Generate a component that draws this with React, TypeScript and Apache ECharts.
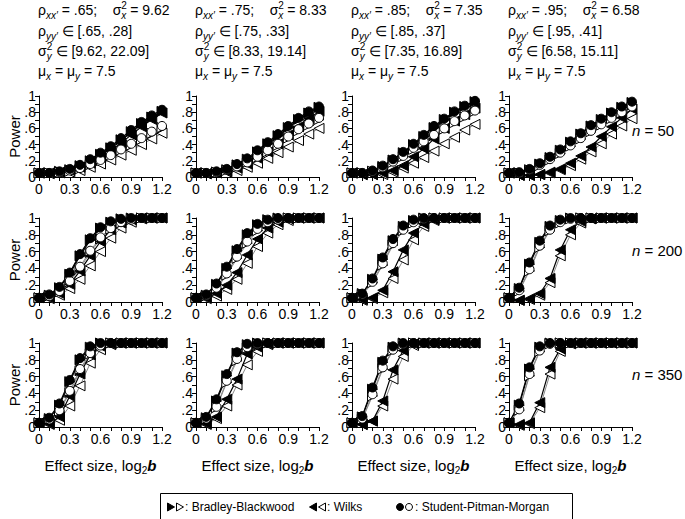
import React, { useEffect, useRef } from "react";
import * as echarts from "echarts";

const X_VALUES = [0, 0.1, 0.2, 0.3, 0.4, 0.5, 0.6, 0.7, 0.8, 0.9, 1.0, 1.1, 1.2];
const N_LABELS = ["50", "200", "350"];
const RHO_XX = [".65", ".75", ".85", ".95"];
const SIGMA_X = ["9.62", "8.33", "7.35", "6.58"];
const RHO_YY = ["[.65, .28]", "[.75, .33]", "[.85, .37]", "[.95, .41]"];
const SIGMA_Y = ["[9.62, 22.09]", "[8.33, 19.14]", "[7.35, 16.89]", "[6.58, 15.11]"];
const MU = "7.5";

// n = 50
const spmFilled50 = [
  [0.05, 0.05, 0.07, 0.10, 0.15, 0.22, 0.30, 0.38, 0.48, 0.58, 0.68, 0.76, 0.83],
  [0.05, 0.05, 0.07, 0.10, 0.16, 0.23, 0.33, 0.43, 0.53, 0.63, 0.73, 0.81, 0.87],
  [0.05, 0.05, 0.08, 0.14, 0.22, 0.31, 0.41, 0.52, 0.63, 0.72, 0.81, 0.88, 0.94],
  [0.05, 0.06, 0.10, 0.17, 0.25, 0.34, 0.44, 0.54, 0.64, 0.72, 0.80, 0.87, 0.93],
];
const spmOpen50 = [
  [0.05, 0.05, 0.06, 0.08, 0.11, 0.16, 0.21, 0.27, 0.34, 0.41, 0.48, 0.56, 0.63],
  [0.05, 0.05, 0.06, 0.09, 0.13, 0.18, 0.25, 0.33, 0.41, 0.50, 0.59, 0.66, 0.73],
  [0.05, 0.05, 0.07, 0.12, 0.19, 0.26, 0.36, 0.44, 0.52, 0.60, 0.69, 0.76, 0.82],
  [0.05, 0.05, 0.09, 0.15, 0.22, 0.30, 0.39, 0.48, 0.57, 0.65, 0.73, 0.80, 0.87],
];
const bbFilled50 = [
  [0.05, 0.05, 0.07, 0.09, 0.14, 0.20, 0.28, 0.36, 0.46, 0.56, 0.66, 0.74, 0.81],
  [0.05, 0.05, 0.06, 0.09, 0.15, 0.22, 0.31, 0.41, 0.51, 0.61, 0.71, 0.79, 0.86],
  [0.05, 0.05, 0.07, 0.13, 0.21, 0.30, 0.40, 0.50, 0.61, 0.71, 0.80, 0.87, 0.93],
  [0.05, 0.05, 0.09, 0.16, 0.24, 0.33, 0.43, 0.53, 0.63, 0.71, 0.79, 0.86, 0.92],
];
const bbOpen50 = [
  [0.05, 0.05, 0.06, 0.07, 0.10, 0.15, 0.20, 0.26, 0.32, 0.39, 0.46, 0.54, 0.61],
  [0.05, 0.05, 0.06, 0.08, 0.12, 0.17, 0.24, 0.31, 0.39, 0.48, 0.57, 0.64, 0.71],
  [0.05, 0.05, 0.07, 0.11, 0.18, 0.25, 0.34, 0.42, 0.51, 0.59, 0.67, 0.74, 0.81],
  [0.05, 0.05, 0.08, 0.14, 0.21, 0.29, 0.38, 0.47, 0.56, 0.64, 0.72, 0.79, 0.86],
];
const wilksFilled50 = [
  [0.05, 0.05, 0.06, 0.08, 0.12, 0.17, 0.24, 0.32, 0.42, 0.52, 0.62, 0.71, 0.79],
  [0.05, 0.04, 0.05, 0.07, 0.11, 0.16, 0.23, 0.31, 0.41, 0.52, 0.62, 0.72, 0.81],
  [0.05, 0.03, 0.03, 0.05, 0.08, 0.14, 0.25, 0.35, 0.47, 0.60, 0.69, 0.77, 0.85],
  [0.05, 0.02, 0.02, 0.03, 0.06, 0.10, 0.17, 0.26, 0.37, 0.50, 0.62, 0.73, 0.84],
];
const wilksOpen50 = [
  [0.05, 0.04, 0.05, 0.06, 0.08, 0.12, 0.16, 0.21, 0.27, 0.33, 0.40, 0.47, 0.54],
  [0.05, 0.04, 0.05, 0.06, 0.08, 0.12, 0.17, 0.23, 0.30, 0.37, 0.45, 0.53, 0.60],
  [0.05, 0.03, 0.03, 0.03, 0.06, 0.11, 0.17, 0.24, 0.32, 0.41, 0.49, 0.58, 0.65],
  [0.05, 0.02, 0.02, 0.03, 0.05, 0.09, 0.14, 0.22, 0.31, 0.41, 0.53, 0.63, 0.72],
];

// n = 200
const spmFilled200 = [
  [0.05, 0.09, 0.18, 0.35, 0.57, 0.76, 0.89, 0.96, 0.99, 1, 1, 1, 1],
  [0.05, 0.09, 0.22, 0.42, 0.63, 0.82, 0.93, 0.98, 1, 1, 1, 1, 1],
  [0.05, 0.10, 0.28, 0.53, 0.75, 0.91, 0.98, 1, 1, 1, 1, 1, 1],
  [0.05, 0.17, 0.47, 0.73, 0.91, 0.98, 1, 1, 1, 1, 1, 1, 1],
];
const spmOpen200 = [
  [0.05, 0.07, 0.13, 0.25, 0.42, 0.61, 0.77, 0.88, 0.95, 0.98, 1, 1, 1],
  [0.05, 0.08, 0.17, 0.34, 0.54, 0.72, 0.87, 0.95, 0.98, 1, 1, 1, 1],
  [0.05, 0.09, 0.24, 0.46, 0.70, 0.86, 0.95, 0.99, 1, 1, 1, 1, 1],
  [0.05, 0.14, 0.39, 0.67, 0.86, 0.95, 0.99, 1, 1, 1, 1, 1, 1],
];
const bbFilled200 = [
  [0.05, 0.08, 0.17, 0.33, 0.55, 0.74, 0.88, 0.95, 0.99, 1, 1, 1, 1],
  [0.05, 0.08, 0.21, 0.40, 0.61, 0.80, 0.92, 0.98, 1, 1, 1, 1, 1],
  [0.05, 0.10, 0.27, 0.51, 0.73, 0.90, 0.97, 1, 1, 1, 1, 1, 1],
  [0.05, 0.16, 0.45, 0.71, 0.90, 0.97, 1, 1, 1, 1, 1, 1, 1],
];
const bbOpen200 = [
  [0.05, 0.07, 0.12, 0.24, 0.40, 0.59, 0.75, 0.87, 0.94, 0.98, 1, 1, 1],
  [0.05, 0.07, 0.16, 0.32, 0.52, 0.70, 0.85, 0.94, 0.98, 1, 1, 1, 1],
  [0.05, 0.08, 0.23, 0.44, 0.68, 0.85, 0.94, 0.99, 1, 1, 1, 1, 1],
  [0.05, 0.13, 0.37, 0.65, 0.85, 0.94, 0.99, 1, 1, 1, 1, 1, 1],
];
const wilksFilled200 = [
  [0.05, 0.05, 0.10, 0.21, 0.37, 0.55, 0.72, 0.86, 0.94, 0.98, 1, 1, 1],
  [0.05, 0.05, 0.10, 0.20, 0.35, 0.56, 0.75, 0.88, 0.95, 0.99, 1, 1, 1],
  [0.05, 0.03, 0.05, 0.14, 0.36, 0.62, 0.82, 0.93, 0.98, 1, 1, 1, 1],
  [0.05, 0.02, 0.04, 0.10, 0.28, 0.62, 0.86, 0.96, 0.99, 1, 1, 1, 1],
];
const wilksOpen200 = [
  [0.05, 0.04, 0.08, 0.16, 0.27, 0.43, 0.60, 0.76, 0.88, 0.95, 0.99, 1, 1],
  [0.05, 0.04, 0.07, 0.15, 0.27, 0.46, 0.66, 0.82, 0.92, 0.97, 1, 1, 1],
  [0.05, 0.02, 0.04, 0.11, 0.28, 0.50, 0.74, 0.90, 0.97, 1, 1, 1, 1],
  [0.05, 0.02, 0.03, 0.08, 0.23, 0.55, 0.80, 0.94, 0.99, 1, 1, 1, 1],
];

// n = 350
const spmFilled350 = [
  [0.05, 0.11, 0.28, 0.56, 0.82, 0.96, 1, 1, 1, 1, 1, 1, 1],
  [0.05, 0.12, 0.33, 0.63, 0.89, 0.99, 1, 1, 1, 1, 1, 1, 1],
  [0.05, 0.13, 0.47, 0.79, 0.96, 1, 1, 1, 1, 1, 1, 1, 1],
  [0.05, 0.28, 0.71, 0.96, 1, 1, 1, 1, 1, 1, 1, 1, 1],
];
const spmOpen350 = [
  [0.05, 0.09, 0.20, 0.43, 0.69, 0.88, 0.97, 1, 1, 1, 1, 1, 1],
  [0.05, 0.10, 0.24, 0.55, 0.81, 0.95, 0.99, 1, 1, 1, 1, 1, 1],
  [0.05, 0.10, 0.39, 0.71, 0.92, 0.99, 1, 1, 1, 1, 1, 1, 1],
  [0.05, 0.21, 0.63, 0.91, 0.99, 1, 1, 1, 1, 1, 1, 1, 1],
];
const bbFilled350 = [
  [0.05, 0.10, 0.26, 0.54, 0.80, 0.95, 1, 1, 1, 1, 1, 1, 1],
  [0.05, 0.11, 0.31, 0.61, 0.88, 0.98, 1, 1, 1, 1, 1, 1, 1],
  [0.05, 0.12, 0.45, 0.77, 0.95, 1, 1, 1, 1, 1, 1, 1, 1],
  [0.05, 0.26, 0.69, 0.95, 1, 1, 1, 1, 1, 1, 1, 1, 1],
];
const bbOpen350 = [
  [0.05, 0.08, 0.19, 0.41, 0.67, 0.87, 0.96, 1, 1, 1, 1, 1, 1],
  [0.05, 0.09, 0.23, 0.53, 0.79, 0.94, 0.99, 1, 1, 1, 1, 1, 1],
  [0.05, 0.09, 0.37, 0.69, 0.91, 0.99, 1, 1, 1, 1, 1, 1, 1],
  [0.05, 0.20, 0.61, 0.90, 0.99, 1, 1, 1, 1, 1, 1, 1, 1],
];
const wilksFilled350 = [
  [0.05, 0.04, 0.12, 0.37, 0.63, 0.86, 0.96, 0.99, 1, 1, 1, 1, 1],
  [0.05, 0.04, 0.12, 0.33, 0.57, 0.87, 0.95, 0.99, 1, 1, 1, 1, 1],
  [0.05, 0.03, 0.07, 0.31, 0.68, 0.91, 0.99, 1, 1, 1, 1, 1, 1],
  [0.05, 0.03, 0.05, 0.29, 0.71, 0.93, 1, 1, 1, 1, 1, 1, 1],
];
const wilksOpen350 = [
  [0.05, 0.03, 0.08, 0.25, 0.49, 0.76, 0.92, 0.98, 1, 1, 1, 1, 1],
  [0.05, 0.03, 0.10, 0.25, 0.50, 0.74, 0.90, 0.98, 1, 1, 1, 1, 1],
  [0.05, 0.03, 0.07, 0.25, 0.57, 0.84, 0.97, 1, 1, 1, 1, 1, 1],
  [0.05, 0.02, 0.04, 0.23, 0.63, 0.90, 0.99, 1, 1, 1, 1, 1, 1],
];

const ROWS = [
  { bbF: bbFilled50, bbO: bbOpen50, wF: wilksFilled50, wO: wilksOpen50, sF: spmFilled50, sO: spmOpen50 },
  { bbF: bbFilled200, bbO: bbOpen200, wF: wilksFilled200, wO: wilksOpen200, sF: spmFilled200, sO: spmOpen200 },
  { bbF: bbFilled350, bbO: bbOpen350, wF: wilksFilled350, wO: wilksOpen350, sF: spmFilled350, sO: spmOpen350 },
];

const FONT = '"Liberation Sans", Arial, Helvetica, sans-serif';
const COL_LEFT = [39, 196, 352, 509];
const GRID_W = 123;
const ROW_TOP = [96, 218, 343];
const ROW_H = [81, 84, 84];
const HEADER_Y = [10, 31, 51, 71];

function fmtX(v: number) {
  if (v === 0) return "0";
  return v.toFixed(1);
}
function fmtY(v: number) {
  if (v === 0) return "0";
  if (v >= 0.999) return "1";
  return "." + Math.round(v * 10);
}

const RICH = {
  n: { fontSize: 14, lineHeight: 20, fontFamily: FONT, fill: "#000" },
  sub: { fontSize: 10, lineHeight: 10, verticalAlign: "bottom", fontStyle: "italic", fontFamily: FONT },
  sup: { fontSize: 10, lineHeight: 10, verticalAlign: "top", width: 0, fontFamily: FONT },
  L: { fontSize: 15, lineHeight: 21, fontFamily: FONT },
  Li: { fontSize: 15, lineHeight: 21, fontStyle: "italic", fontFamily: FONT },
  Lsub: { fontSize: 10, lineHeight: 10, verticalAlign: "bottom", fontFamily: FONT },
  Lbi: { fontSize: 15, lineHeight: 21, fontStyle: "italic", fontWeight: "bold", fontFamily: FONT },
};

export default function App() {
  const ref = useRef<HTMLDivElement>(null);
  useEffect(() => {
    if (!ref.current) return;
    const chart = echarts.init(ref.current, undefined, { renderer: "svg" });
    const grids: any[] = [];
    const xAxes: any[] = [];
    const yAxes: any[] = [];
    const series: any[] = [];
    let idx = 0;
    for (let r = 0; r < 3; r++) {
      for (let c = 0; c < 4; c++) {
        grids.push({ left: COL_LEFT[c], top: ROW_TOP[r], width: GRID_W, height: ROW_H[r] });
        xAxes.push({
          gridIndex: idx,
          type: "value",
          min: 0,
          max: 1.2,
          interval: 0.3,
          axisLine: { lineStyle: { color: "#000", width: 1 } },
          axisTick: { length: 4, lineStyle: { color: "#000" } },
          minorTick: { show: true, splitNumber: 3, length: 4, lineStyle: { color: "#000" } },
          splitLine: { show: false },
          minorSplitLine: { show: false },
          axisLabel: { color: "#000", fontSize: 14, fontFamily: FONT, margin: 5, formatter: fmtX, showMinLabel: true, showMaxLabel: true },
        });
        yAxes.push({
          gridIndex: idx,
          type: "value",
          min: 0,
          max: 1,
          interval: 0.2,
          axisLine: { show: true, lineStyle: { color: "#000", width: 1 } },
          axisTick: { show: true, length: 4, lineStyle: { color: "#000" } },
          minorTick: { show: true, splitNumber: 2, length: 4, lineStyle: { color: "#000" } },
          splitLine: { show: false },
          minorSplitLine: { show: false },
          axisLabel: { color: "#000", fontSize: 14, fontFamily: FONT, margin: 3, formatter: fmtY },
        });
        const d = ROWS[r];
        const mk = (arr: number[][]) => X_VALUES.map((x, i) => [x, arr[c][i]]);
        const base = { type: "line", xAxisIndex: idx, yAxisIndex: idx, clip: false, silent: true };
        series.push({
          ...base, name: "BB filled", data: mk(d.bbF), symbol: "triangle", symbolRotate: -90, symbolSize: 10,
          itemStyle: { color: "#000", borderColor: "#000", borderWidth: 1 }, lineStyle: { color: "#000", width: 1.2 },
        });
        series.push({
          ...base, name: "BB open", data: mk(d.bbO), symbol: "triangle", symbolRotate: -90, symbolSize: 10,
          itemStyle: { color: "#fff", borderColor: "#000", borderWidth: 1 }, lineStyle: { color: "#888", width: 1 },
        });
        series.push({
          ...base, name: "Wilks open", data: mk(d.wO), symbol: "triangle", symbolRotate: 90, symbolSize: 10,
          itemStyle: { color: "#fff", borderColor: "#000", borderWidth: 1 }, lineStyle: { color: "#888", width: 1 },
        });
        series.push({
          ...base, name: "Wilks filled", data: mk(d.wF), symbol: "triangle", symbolRotate: 90, symbolSize: 10,
          itemStyle: { color: "#000", borderColor: "#000", borderWidth: 1 }, lineStyle: { color: "#000", width: 1.2 },
        });
        series.push({
          ...base, name: "SPM open", data: mk(d.sO), symbol: "circle", symbolSize: 9,
          itemStyle: { color: "#fff", borderColor: "#000", borderWidth: 1 }, lineStyle: { color: "#888", width: 1 },
        });
        series.push({
          ...base, name: "SPM filled", data: mk(d.sF), symbol: "circle", symbolSize: 9,
          itemStyle: { color: "#000", borderColor: "#000", borderWidth: 1 }, lineStyle: { color: "#000", width: 1.2 },
        });
        idx++;
      }
    }

    const graphic: any[] = [];
    for (let c = 0; c < 4; c++) {
      const x = COL_LEFT[c] - 1;
      const lines = [
        `{n|ρ}{sub|xx′}{n| = ${RHO_XX[c]};    σ}{sup|2}{sub|x}{n| = ${SIGMA_X[c]}}`,
        `{n|ρ}{sub|yy′}{n| ∈ ${RHO_YY[c]}}`,
        `{n|σ}{sup|2}{sub|y}{n| ∈ ${SIGMA_Y[c]}}`,
        `{n|μ}{sub|x}{n| = μ}{sub|y}{n| = ${MU}}`,
      ];
      lines.forEach((t, k) => {
        graphic.push({
          type: "text", x, y: HEADER_Y[k], silent: true,
          style: { text: t, rich: RICH, align: "left", verticalAlign: "middle", fill: "#000", font: `14px ${FONT}` },
        });
      });
      graphic.push({
        type: "text", x: COL_LEFT[c] + GRID_W / 2, y: 465, silent: true,
        style: { text: "{L|Effect size, log}{Lsub|2}{Lbi|b}", rich: RICH, align: "center", verticalAlign: "middle", fill: "#000" },
      });
    }
    for (let r = 0; r < 3; r++) {
      graphic.push({
        type: "text", x: 14, y: ROW_TOP[r] + ROW_H[r] / 2, rotation: Math.PI / 2, silent: true,
        style: { text: "Power", align: "center", verticalAlign: "middle", fill: "#000", font: `15px ${FONT}` },
      });
      graphic.push({
        type: "text", x: 632, y: [130, 250, 374][r], silent: true,
        style: { text: `{Li|n}{L| = ${N_LABELS[r]}}`, rich: RICH, align: "left", verticalAlign: "middle", fill: "#000" },
      });
    }
    // legend
    const ly = 507;
    graphic.push({ type: "rect", shape: { x: 160.5, y: 493.5, width: 412, height: 40 }, style: { fill: "none", stroke: "#000", lineWidth: 1 }, silent: true });
    const rtri = (cx: number, filled: boolean) => ({
      type: "polygon", shape: { points: [[cx - 3.5, ly - 4], [cx + 3.5, ly], [cx - 3.5, ly + 4]] },
      style: { fill: filled ? "#000" : "#fff", stroke: "#000", lineWidth: 1 }, silent: true,
    });
    const ltri = (cx: number, filled: boolean) => ({
      type: "polygon", shape: { points: [[cx + 3.5, ly - 4], [cx - 3.5, ly], [cx + 3.5, ly + 4]] },
      style: { fill: filled ? "#000" : "#fff", stroke: "#000", lineWidth: 1 }, silent: true,
    });
    const circ = (cx: number, filled: boolean) => ({
      type: "circle", shape: { cx, cy: ly, r: 3.5 },
      style: { fill: filled ? "#000" : "#fff", stroke: "#000", lineWidth: 1 }, silent: true,
    });
    graphic.push(rtri(171, true), rtri(180, false));
    graphic.push({ type: "text", x: 185, y: ly, silent: true, style: { text: ": Bradley-Blackwood", font: `12px ${FONT}`, fill: "#000", align: "left", verticalAlign: "middle" } });
    graphic.push(ltri(313, true), ltri(322, false));
    graphic.push({ type: "text", x: 327, y: ly, silent: true, style: { text: ": Wilks", font: `12px ${FONT}`, fill: "#000", align: "left", verticalAlign: "middle" } });
    graphic.push(circ(400, true), circ(409, false));
    graphic.push({ type: "text", x: 415, y: ly, silent: true, style: { text: ": Student-Pitman-Morgan", font: `12px ${FONT}`, fill: "#000", align: "left", verticalAlign: "middle" } });

    chart.setOption({
      animation: false,
      backgroundColor: "#fff",
      grid: grids,
      xAxis: xAxes,
      yAxis: yAxes,
      series,
      graphic,
    });
    return () => chart.dispose();
  }, []);
  return <div ref={ref} style={{ position: "absolute", left: 0, top: 0, width: 685, height: 519 }} />;
}
